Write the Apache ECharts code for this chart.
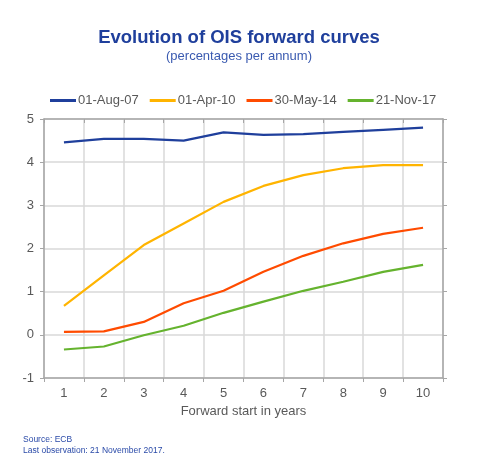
<!DOCTYPE html>
<html><head><meta charset="utf-8">
<script src="https://cdn.jsdelivr.net/npm/echarts@6/dist/echarts.min.js"></script>
<style>html,body{margin:0;padding:0;background:#fff}#c{width:478px;height:463px}</style>
</head><body><div id="c"></div>
<script>
var categories = ['1','2','3','4','5','6','7','8','9','10'];
var seriesNames = ['01-Aug-07','01-Apr-10','30-May-14','21-Nov-17'];
var aug07 = [4.46,4.54,4.54,4.50,4.69,4.63,4.65,4.70,4.75,4.80];
var apr10 = [0.67,1.38,2.08,2.58,3.08,3.45,3.70,3.86,3.93,3.93];
var may14 = [0.07,0.08,0.30,0.73,1.02,1.46,1.83,2.12,2.34,2.48];
var nov17 = [-0.34,-0.27,-0.01,0.21,0.51,0.77,1.02,1.23,1.46,1.62];
var colors = ['#1f3f9c','#ffb400','#ff4b00','#65b32e'];
var values = [aug07, apr10, may14, nov17];

var chart = echarts.init(document.getElementById('c'));
var gray = '#a6a6a6';
chart.setOption({
  animation: false,
  title: [
    {text: 'Evolution of OIS forward curves', left: 'center', top: 23,
     textStyle: {color: '#1f3f9c', fontSize: 18.5, fontWeight: 'bold', fontFamily: 'Liberation Sans'}},
    {text: '(percentages per annum)', left: 'center', top: 45,
     textStyle: {color: '#3a5ab0', fontSize: 13, fontWeight: 'normal', fontFamily: 'Liberation Sans'}},
    {text: 'Source: ECB\nLast observation: 21 November 2017.', left: 18, top: 429,
     textStyle: {color: '#2a4aa8', fontSize: 8.5, lineHeight: 11, fontWeight: 'normal', fontFamily: 'Liberation Sans'}}
  ],
  legend: {
    data: seriesNames, top: 89, left: 45, itemWidth: 26, itemHeight: 3, itemGap: 11,
    icon: 'rect',
    textStyle: {color: '#595959', fontSize: 13, fontFamily: 'Liberation Sans', padding: [0,0,0,-3]}
  },
  grid: {left: 44, right: 35, top: 119, bottom: 85},
  xAxis: [
    {type: 'category', data: categories, boundaryGap: true,
     name: 'Forward start in years', nameLocation: 'middle', nameGap: 26,
     nameTextStyle: {color: '#595959', fontSize: 13, fontFamily: 'Liberation Sans'},
     axisLine: {onZero: false, lineStyle: {color: gray, width: 1.5}},
     axisTick: {show: true, length: 4, lineStyle: {color: gray}},
     axisLabel: {color: '#595959', fontSize: 13, fontFamily: 'Liberation Sans', margin: 9},
     splitLine: {show: true, interval: 0, lineStyle: {color: '#d9d9d9', width: 1.5}}
    },
    {type: 'category', data: categories, position: 'top', boundaryGap: true,
     axisLine: {onZero: false, lineStyle: {color: gray, width: 1.5}},
     axisTick: {show: true, inside: true, length: 4, lineStyle: {color: gray}},
     axisLabel: {show: false}, splitLine: {show: false}
    }
  ],
  yAxis: [
    {type: 'value', min: -1, max: 5, interval: 1,
     axisLine: {show: true, onZero: false, lineStyle: {color: gray, width: 1.5}},
     axisTick: {show: true, length: 4, lineStyle: {color: gray}},
     axisLabel: {color: '#595959', fontSize: 13, fontFamily: 'Liberation Sans', margin: 10},
     splitLine: {show: true, lineStyle: {color: '#d9d9d9', width: 1.5}}
    },
    {type: 'value', min: -1, max: 5, interval: 1, position: 'right',
     axisLine: {show: true, onZero: false, lineStyle: {color: gray, width: 1.5}},
     axisTick: {show: true, length: 4, lineStyle: {color: gray}},
     axisLabel: {show: false}, splitLine: {show: false}
    }
  ],
  series: seriesNames.map(function(n, i){
    return {name: n, type: 'line', data: values[i], symbol: 'none', smooth: false,
      color: colors[i], lineStyle: {width: 2.2, color: colors[i]}};
  })
});
</script></body></html>
